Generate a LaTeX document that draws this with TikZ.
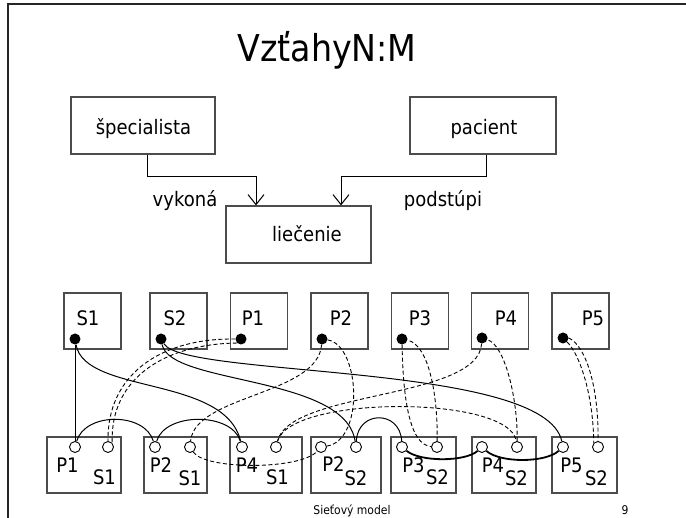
\documentclass[tikz,border=0pt]{standalone}
\usepackage{fontspec}
\setmainfont{DejaVu Sans}[FakeStretch=0.9]
\usetikzlibrary{arrows.meta, positioning}

\tikzset{
    box/.style={draw=black!70, line width=1.2pt, inner sep=0pt, minimum height=56pt},
    rec/.style={box, minimum width=57pt},
    lbl/.style={inner sep=0pt, anchor=base, font=\fontsize{20}{24}\selectfont},
    dot/.style={circle, fill=black, inner sep=0pt, minimum size=11pt},
    ring/.style={circle, draw=black, fill=white, line width=0.9pt, inner sep=0pt, minimum size=11pt},
    slink/.style={line width=1pt},
    sag/.style={line width=1.8pt},
    plink/.style={line width=0.9pt, dash pattern=on 4pt off 2.5pt},
    rel/.style={line width=1pt, -{Straight Barb[length=10pt, width=16pt]}},
    foot/.style={inner sep=0pt, anchor=base, font=\fontsize{12}{14}\selectfont},
}

\begin{document}
\begin{tikzpicture}[x=1pt, y=-1pt]
    \useasboundingbox (0,0) rectangle (686,518);
    % frame
    \draw[line width=2pt, black!85] (686,4) -- (8,4) -- (8,518);

    \node[anchor=base, inner sep=0pt, font=\fontsize{37}{44}\selectfont] (title) at (327,62) {VzťahyN:M};

    % schema
    \node[box, minimum width=144pt, minimum height=57pt] (spec) at (143,125.5) {};
    \node[box, minimum width=146pt, minimum height=57pt] (pac) at (483,125.5) {};
    \node[box, minimum width=145pt, minimum height=57pt] (liec) at (298.5,234.5) {};
    \node[lbl] (spec_t) at (143.5,135) {špecialista};
    \node[lbl] (pac_t) at (484,135) {pacient};
    \node[lbl] (liec_t) at (307,242) {liečenie};
    \node[lbl] (vyk_t) at (185,207) {vykoná};
    \node[lbl] (pod_t) at (443,207) {podstúpi};

    \draw[rel] ([xshift=4pt]spec.south) -- ++(0,22) -| ([xshift=-42.5pt]liec.north);
    \draw[rel] ([xshift=3pt]pac.south) -- ++(0,22) -| ([xshift=42.5pt]liec.north);

    % owners
    \node[rec] (s1) at (92.5,321) {};
    \node[rec] (s2) at (178.5,321) {};
    \node[rec] (p1) at (259,321) {};
    \node[rec] (p2) at (339.5,321) {};
    \node[rec] (p3) at (420,321) {};
    \node[rec] (p4) at (500,321) {};
    \node[rec] (p5) at (580.5,321) {};
    \node[lbl] (s1_t) at (88,326) {S1};
    \node[lbl] (s2_t) at (175,326) {S2};
    \node[lbl] (p1_t) at (253,326) {P1};
    \node[lbl] (p2_t) at (341,326) {P2};
    \node[lbl] (p3_t) at (420,326) {P3};
    \node[lbl] (p4_t) at (506,326) {P4};
    \node[lbl] (p5_t) at (593,326) {P5};
    \node[dot] (s1_dot) at (75,339) {};
    \node[dot] (s2_dot) at (161,339) {};
    \node[dot] (p1_dot) at (241,339) {};
    \node[dot] (p2_dot) at (322,339) {};
    \node[dot] (p3_dot) at (402,339) {};
    \node[dot] (p4_dot) at (482,338) {};
    \node[dot] (p5_dot) at (563,338) {};

    % members
    \node[box, minimum width=74pt] (r1) at (84,465) {};
    \node[box, minimum width=63pt] (r2) at (175.5,465) {};
    \node[box, minimum width=72pt] (r3) at (266,465) {};
    \node[box, minimum width=70pt] (r4) at (346,465) {};
    \node[box, minimum width=65pt] (r5) at (423.5,465) {};
    \node[box, minimum width=64pt] (r6) at (504,465) {};
    \node[box, minimum width=65pt] (r7) at (584.5,465) {};
    \node[lbl] (r1_p) at (67.5,473) {P1};
    \node[lbl] (r1_s) at (104.5,485) {S1};
    \node[lbl] (r2_p) at (161,473) {P2};
    \node[lbl] (r2_s) at (190,486) {S1};
    \node[lbl] (r3_p) at (247,473) {P4};
    \node[lbl] (r3_s) at (277.5,485) {S1};
    \node[lbl] (r4_p) at (333.5,472) {P2};
    \node[lbl] (r4_s) at (356,486) {S2};
    \node[lbl] (r5_p) at (413.5,473) {P3};
    \node[lbl] (r5_s) at (437.5,485) {S2};
    \node[lbl] (r6_p) at (493,473) {P4};
    \node[lbl] (r6_s) at (516.5,486) {S2};
    \node[lbl] (r7_p) at (571.5,473) {P5};
    \node[lbl] (r7_s) at (596.5,486) {S2};
    \node[ring] (r1_l) at (75,447) {};
    \node[ring] (r1_r) at (108,447) {};
    \node[ring] (r2_l) at (155,447) {};
    \node[ring] (r2_r) at (190,447) {};
    \node[ring] (r3_l) at (242,447) {};
    \node[ring] (r3_r) at (276,447) {};
    \node[ring] (r4_l) at (321,447) {};
    \node[ring] (r4_r) at (356,447) {};
    \node[ring] (r5_l) at (402,447) {};
    \node[ring] (r5_r) at (437,447) {};
    \node[ring] (r6_l) at (482,447) {};
    \node[ring] (r6_r) at (517,447) {};
    \node[ring] (r7_l) at (563,447) {};
    \node[ring] (r7_r) at (598,447) {};

    % S1 ring
    \draw[slink] (s1_dot) -- (r1_l);
    \draw[slink] (r1_l) .. controls (85,412) and (145,412) .. (r2_l);
    \draw[slink] (r2_l) .. controls (165,412) and (232,412) .. (r3_l);
    \draw[slink] (r3_l) .. controls (225,375) and (85,395) .. (s1_dot);
    % S2 ring
    \draw[slink] (s2_dot) .. controls (170,385) and (345,375) .. (r4_r);
    \draw[slink] (r4_r) .. controls (358,410) and (400,410) .. (r5_l);
    \draw[sag] (r5_l) .. controls (420,462) and (465,462) .. (r6_l);
    \draw[sag] (r6_l) .. controls (500,463) and (545,463) .. (r7_l);
    \draw[slink] (r7_l) .. controls (545,362) and (185,378) .. (s2_dot);

    % P1 ring
    \draw[plink] (p1_dot.west) .. controls (160,338) and (107,375) .. (r1_r.north);
    \draw[plink] (p1_dot.south west) .. controls (165,344) and (110,378) .. (r1_r.north east);
    % P2 ring
    \draw[plink] (p2_dot) .. controls (318,395) and (195,395) .. (r2_r);
    \draw[plink] (r2_r) .. controls (205,470) and (300,470) .. (r4_l);
    \draw[plink] (r4_l) .. controls (365,440) and (360,345) .. (p2_dot);
    % P3 ring
    \draw[plink] (p3_dot) .. controls (403,400) and (410,445) .. (r5_r);
    \draw[plink] (r5_r) .. controls (438,400) and (430,345) .. (p3_dot);
    % P4 ring
    \draw[plink] (p4_dot) .. controls (478,400) and (290,390) .. (r3_r);
    \draw[plink] (r3_r) .. controls (290,395) and (510,395) .. (r6_r);
    \draw[plink] (r6_r) .. controls (518,400) and (505,345) .. (p4_dot);
    % P5 ring
    \draw[plink] (p5_dot.east) .. controls (585,345) and (599,385) .. (r7_r.north);
    \draw[plink] (p5_dot.south east) .. controls (578,352) and (593,390) .. (r7_r.north west);

    \node[foot] (foot_t) at (352,515) {Sieťový model};
    \node[foot] (page_no) at (625,515) {9};
\end{tikzpicture}
\end{document}
